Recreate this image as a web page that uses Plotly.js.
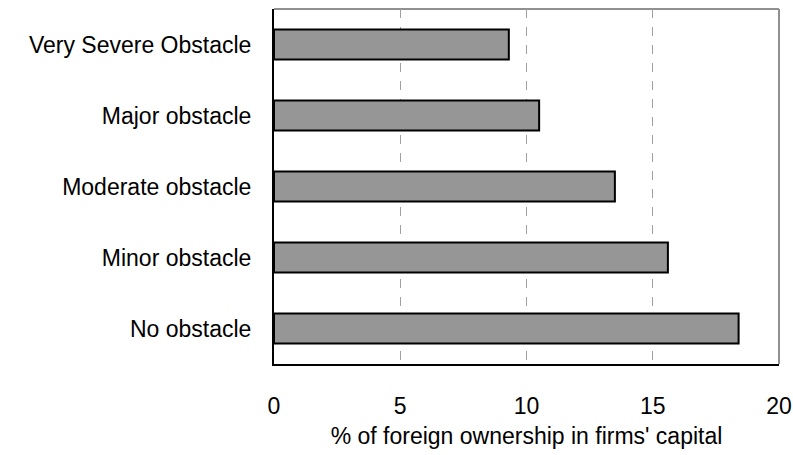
<!DOCTYPE html>
<html>
<head>
<meta charset="utf-8">
<script src="https://cdn.plot.ly/plotly-3.0.1.min.js"></script>
<style>html,body{margin:0;padding:0;background:#fff;}#chart{width:793px;height:455px;}</style>
</head>
<body>
<div id="chart"></div>
<script>
const categories = ['Very Severe Obstacle', 'Major obstacle', 'Moderate obstacle', 'Minor obstacle', 'No obstacle'];
const values = [9.3, 10.5, 13.5, 15.6, 18.4];
const xTickValues = [0, 5, 10, 15, 20];
const xTitle = "% of foreign ownership in firms' capital";

const font = {family: '"Liberation Sans", Arial, sans-serif', size: 23, color: '#000'};

const trace = {
  type: 'bar',
  orientation: 'h',
  y: categories,
  x: values,
  marker: {color: '#969696', line: {color: '#000', width: 2}},
  hoverinfo: 'none'
};

const layout = {
  width: 793, height: 455,
  margin: {l: 274, r: 14, t: 9, b: 91},
  paper_bgcolor: '#fff', plot_bgcolor: '#fff',
  font: font,
  showlegend: false,
  bargap: 0.58,
  xaxis: {
    range: [0, 20],
    tickvals: xTickValues,
    ticktext: xTickValues.map(String),
    showgrid: true, gridcolor: '#a0a0a0', griddash: 'dash', gridwidth: 1,
    zeroline: false,
    showline: true, linecolor: '#000', linewidth: 2,
    ticks: '', ticklabelstandoff: 20,
    tickfont: font,
    title: {text: xTitle, font: font, standoff: 10},
    fixedrange: true
  },
  yaxis: {
    type: 'category',
    autorange: 'reversed',
    showgrid: false, zeroline: false,
    showline: true, linecolor: '#000', linewidth: 2,
    ticks: '', ticklabelstandoff: 16,
    tickfont: font,
    fixedrange: true
  },
  shapes: [
    {type: 'line', xref: 'paper', yref: 'paper', x0: 0, x1: 1, y0: 1, y1: 1, line: {color: '#909090', width: 2}, layer: 'below'},
    {type: 'line', xref: 'paper', yref: 'paper', x0: 1, x1: 1, y0: 0, y1: 1, line: {color: '#909090', width: 2}, layer: 'below'}
  ]
};

Plotly.newPlot('chart', [trace], layout, {displayModeBar: false, staticPlot: true});
</script>
</body>
</html>
